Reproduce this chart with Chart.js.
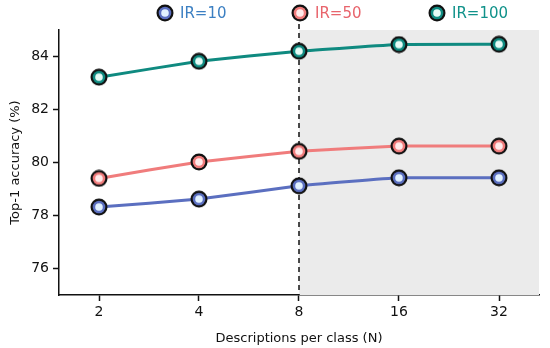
<!DOCTYPE html>
<html>
<head>
<meta charset="utf-8">
<script src="https://cdn.jsdelivr.net/npm/chart.js@4"></script>
<style>
  html, body { margin: 0; padding: 0; background: #fff; }
  #wrap { width: 550px; height: 348px; }
</style>
</head>
<body>
<div id="wrap"><canvas id="accChart" width="550" height="348"></canvas></div>
<script>
const categories = ['2', '4', '8', '16', '32'];
const seriesLabels = ['IR=10', 'IR=50', 'IR=100'];
const ir10 = [78.32, 78.62, 79.12, 79.42, 79.42];
const ir50 = [79.40, 80.02, 80.42, 80.62, 80.62];
const ir100 = [83.22, 83.82, 84.20, 84.45, 84.46];
const yTicks = [76, 78, 80, 82, 84];
const shadeFrom = 2; // index of N=8

const lineColors = ['#5b6fc0', '#f07c7c', '#0f8a80'];
const innerColors = ['#e2f2ff', '#ffeaea', '#e6fbf6'];
const legendColors = ['#3b7fc2', '#e8646c', '#10928a'];
const FONT = '"Comic Sans MS", "DejaVu Sans", sans-serif';

function makeMarker(ring, inner) {
    const c = document.createElement('canvas');
    c.width = 18; c.height = 18;
    const g = c.getContext('2d');
    g.beginPath(); g.arc(9, 9, 8.5, 0, Math.PI * 2); g.fillStyle = '#111'; g.fill();
    g.beginPath(); g.arc(9, 9, 6.3, 0, Math.PI * 2); g.fillStyle = ring; g.fill();
    g.beginPath(); g.arc(9, 9, 3.8, 0, Math.PI * 2); g.fillStyle = inner; g.fill();
    return c;
}
const markers = lineColors.map((c, i) => makeMarker(c, innerColors[i]));

const allSeries = [ir10, ir50, ir100];
const datasets = allSeries.map((vals, i) => ({
    label: seriesLabels[i],
    data: vals.map((v, j) => ({ x: j, y: v })),
    borderColor: lineColors[i],
    borderWidth: 3,
    pointStyle: markers[i],
    pointRadius: 8,
    pointHoverRadius: 8,
    tension: 0.1,
    fill: false
}));

const shadePlugin = {
    id: 'shade',
    beforeDatasetsDraw(chart) {
        const { ctx, chartArea, scales } = chart;
        const x0 = scales.x.getPixelForValue(shadeFrom);
        ctx.save();
        ctx.fillStyle = '#ebebeb';
        ctx.fillRect(x0, chartArea.top, chartArea.right - x0, chartArea.bottom - chartArea.top);
        ctx.strokeStyle = '#111';
        ctx.lineWidth = 1.5;
        ctx.setLineDash([5, 4]);
        ctx.beginPath();
        ctx.moveTo(x0, chartArea.top - 6);
        ctx.lineTo(x0, chartArea.bottom);
        ctx.stroke();
        ctx.restore();
    }
};

const legendPlugin = {
    id: 'ownLegend',
    afterDraw(chart) {
        const { ctx } = chart;
        const xs = [165, 300, 437];
        ctx.save();
        ctx.font = '15px ' + FONT;
        ctx.textBaseline = 'middle';
        chart.data.datasets.forEach((ds, i) => {
            ctx.drawImage(markers[i], xs[i] - 9, 13 - 9);
            ctx.fillStyle = legendColors[i];
            ctx.fillText(ds.label, xs[i] + 15, 14);
        });
        ctx.restore();
    }
};

new Chart(document.getElementById('accChart'), {
    type: 'line',
    data: { datasets },
    options: {
        responsive: false,
        animation: false,
        layout: { padding: { top: 30, right: 10, left: 0, bottom: 0 } },
        plugins: {
            legend: { display: false },
            tooltip: { enabled: false }
        },
        scales: {
            x: {
                type: 'linear',
                min: -0.4,
                max: 4.4,
                afterBuildTicks(scale) {
                    scale.ticks = categories.map((c, i) => ({ value: i }));
                },
                afterFit(scale) { scale.height = 53; },
                grid: { display: true, drawOnChartArea: false, tickLength: 6, color: '#111', tickWidth: 1.5 },
                border: { display: true, color: '#111', width: 1.5 },
                ticks: {
                    color: '#111',
                    font: { family: FONT, size: 14 },
                    padding: 3,
                    callback: (v) => categories[v]
                },
                title: {
                    display: true,
                    text: 'Descriptions per class (N)',
                    color: '#111',
                    font: { family: FONT, size: 13 },
                    padding: { top: 0, bottom: 2 }
                }
            },
            y: {
                min: 75,
                max: 85,
                afterBuildTicks(scale) {
                    scale.ticks = yTicks.map(v => ({ value: v }));
                },
                afterFit(scale) { scale.width = 59; },
                grid: { display: true, drawOnChartArea: false, tickLength: 6, color: '#111', tickWidth: 1.5 },
                border: { display: true, color: '#111', width: 1.5 },
                ticks: {
                    color: '#111',
                    font: { family: FONT, size: 14 },
                    padding: 4
                },
                title: {
                    display: true,
                    text: 'Top-1 accuracy (%)',
                    color: '#111',
                    font: { family: FONT, size: 13 },
                    padding: { top: 8, bottom: 0 }
                }
            }
        }
    },
    plugins: [shadePlugin, legendPlugin]
});
</script>
</body>
</html>
